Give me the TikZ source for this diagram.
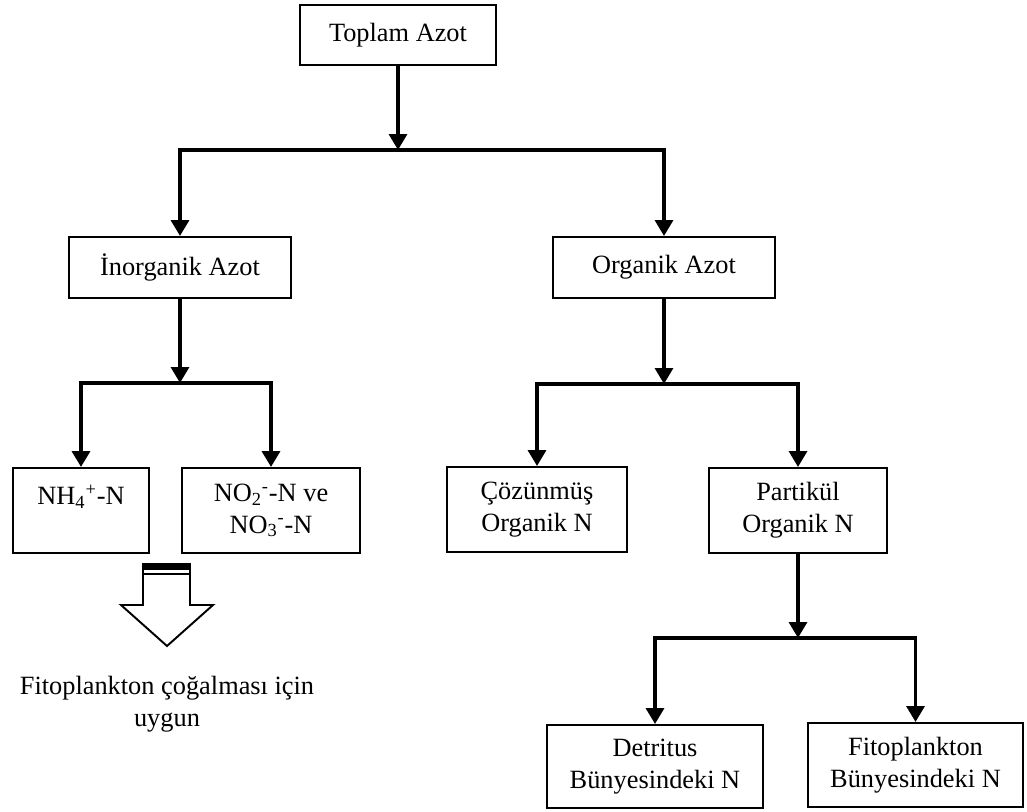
\documentclass[tikz,border=0pt]{standalone}
\usepackage{fontspec}
\setmainfont{Liberation Serif}
\usetikzlibrary{arrows.meta}

\newcommand{\iyon}[2]{\textsubscript{#1}\textsuperscript{#2}}

\begin{document}
\begin{tikzpicture}[x=0.02cm,y=-0.02cm,>={Triangle[width=10pt,length=9pt]},
   kutu/.style={draw,line width=1.1pt,align=center,inner sep=0pt,
     font=\fontsize{15}{18}\selectfont},
   ok/.style={->,line width=2.2pt},
   yazi/.style={align=center,font=\fontsize{15}{18}\selectfont}]
   \useasboundingbox (0,0) rectangle (1027,811);

   % kutular
   \node[kutu,minimum width=3.92cm,minimum height=1.2cm] (toplam) at (398,35) {Toplam Azot};
   \node[kutu,minimum width=4.44cm,minimum height=1.22cm] (inorg) at (180,267.5) {İnorganik Azot};
   \node[kutu,minimum width=4.44cm,minimum height=1.22cm] (org) at (664,267.5) {Organik Azot};
   \node[kutu,minimum width=2.72cm,minimum height=1.7cm] (nh4) at (81,510.5) {NH\iyon{4}{+}-N\\\mbox{}};
   \node[kutu,minimum width=3.56cm,minimum height=1.7cm] (no) at (271,510.5) {NO\iyon{2}{-}-N ve\\NO\iyon{3}{-}-N};
   \node[kutu,minimum width=3.6cm,minimum height=1.7cm] (coz) at (537,509.5) {Çözünmüş\\Organik N};
   \node[kutu,minimum width=3.56cm,minimum height=1.7cm] (part) at (798,510.5) {Partikül\\Organik N};
   \node[kutu,minimum width=4.32cm,minimum height=1.66cm] (det) at (655,766.5) {Detritus\\Bünyesindeki N};
   \node[kutu,minimum width=4.3cm,minimum height=1.68cm] (fito) at (915.5,765) {Fitoplankton\\Bünyesindeki N};
   \node[yazi] (uygun) at (167,704) {Fitoplankton çoğalması için\\uygun};

   % ayrim noktalari
   \coordinate (t1) at (398,150);
   \coordinate (i1) at (180,383);
   \coordinate (o1) at (664,384);
   \coordinate (p1) at (798,638);

   \draw[ok] (toplam) -- (t1);
   \draw[ok] (t1) -| (inorg.north);
   \draw[ok] (t1) -| (org.north);
   \draw[ok] (inorg) -- (i1);
   \draw[ok] (i1) -| (nh4.north);
   \draw[ok] (i1) -| (no.north);
   \draw[ok] (org) -- (o1);
   \draw[ok] (o1) -| (coz.north);
   \draw[ok] (o1) -| (part.north);
   \draw[ok] (part) -- (p1);
   \draw[ok] (p1) -| (det.north);
   \draw[ok] (p1) -| (fito.north);

   % bos ok
   \draw[line width=1.1pt,line join=miter] (143,564) -- (143,605) -- (121,605) -- (167,646)
      -- (213,605) -- (190,605) -- (190,564) -- cycle;
   \fill (143,564) rectangle (190,570);
   \draw[line width=0.8pt] (143,574) -- (190,574);
\end{tikzpicture}
\end{document}
